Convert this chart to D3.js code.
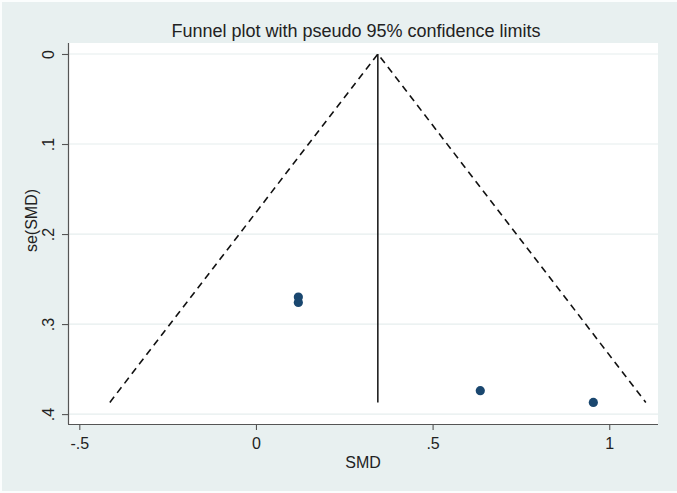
<!DOCTYPE html>
<html><head><meta charset="utf-8">
<script src="https://cdn.jsdelivr.net/npm/d3@7"></script>
<style>html,body{margin:0;padding:0;background:#fff;}svg{display:block;}</style>
</head><body>
<svg id="chart" width="677" height="493"></svg>
<script>
// Data
const smd = [0.12, 0.12, 0.635, 0.955];
const seSmd = [0.270, 0.276, 0.374, 0.387];
const pooled = 0.345;
const xTicks = [-0.5, 0, 0.5, 1];
const xTickLabels = ["-.5", "0", ".5", "1"];
const yTicks = [0, 0.1, 0.2, 0.3, 0.4];
const yTickLabels = ["0", ".1", ".2", ".3", ".4"];
const title = "Funnel plot with pseudo 95% confidence limits";

const W = 677, H = 493;
const svg = d3.select("#chart");
const font = "'Liberation Sans', Arial, Helvetica, sans-serif";

svg.append("rect").attr("x", 0).attr("y", 0).attr("width", W).attr("height", H).attr("fill", "#fbfdfd");
svg.append("rect").attr("x", 2).attr("y", 2).attr("width", W - 2).attr("height", H - 4).attr("fill", "#e8f0f0");

const pl = 68, pr = 658, pt = 43, pb = 424;
const x = d3.scaleLinear().domain([-0.532, 1.138]).range([pl, pr]);
const y = d3.scaleLinear().domain([-0.0122, 0.411]).range([pt, pb]);

svg.append("rect").attr("x", pl).attr("y", pt).attr("width", pr - pl).attr("height", pb - pt).attr("fill", "#ffffff");

// gridlines
svg.append("g").selectAll("line").data(yTicks).join("line")
  .attr("x1", pl).attr("x2", pr)
  .attr("y1", d => y(d)).attr("y2", d => y(d))
  .attr("stroke", "#e6eeee").attr("stroke-width", 1.2);

// axes
const yAxis = d3.axisLeft(y).tickValues(yTicks).tickFormat((d, i) => yTickLabels[i]).tickSize(6).tickPadding(4);
const gy = svg.append("g").attr("transform", `translate(${pl},0)`).call(yAxis);
const xAxis = d3.axisBottom(x).tickValues(xTicks).tickFormat((d, i) => xTickLabels[i]).tickSize(6).tickPadding(8);
const gx = svg.append("g").attr("transform", `translate(0,${pb})`).call(xAxis);
[gx, gy].forEach(g => {
  g.select(".domain").attr("stroke", "#555").attr("stroke-width", 1.2);
  g.selectAll(".tick line").attr("stroke", "#555").attr("stroke-width", 1.1);
  g.selectAll(".tick text").attr("font-family", font).attr("font-size", 16).attr("fill", "#222");
});
gx.select(".domain").attr("d", `M${pl},0.5H${pr}`);
gy.select(".domain").attr("d", `M0.5,${pt}V${pb}`);
gy.selectAll(".tick text")
  .attr("x", null).attr("dy", null)
  .attr("text-anchor", "middle")
  .attr("transform", "translate(-20,0) rotate(-90)")
  .attr("dy", "0.35em");

// axis titles
svg.append("text").attr("x", (pl + pr) / 2).attr("y", 468).attr("text-anchor", "middle")
  .attr("font-family", font).attr("font-size", 16).attr("fill", "#222").text("SMD");
svg.append("text").attr("transform", `translate(37,${y(0.185)}) rotate(-90)`).attr("text-anchor", "middle")
  .attr("font-family", font).attr("font-size", 16).attr("fill", "#222").text("se(SMD)");
svg.append("text").attr("x", (pl + pr) / 2 - 7).attr("y", 37).attr("text-anchor", "middle")
  .attr("font-family", font).attr("font-size", 18).attr("fill", "#222").text(title);

// funnel
const seMax = d3.max(seSmd);
const funnel = [[pooled - 1.96 * seMax, seMax], [pooled, 0], [pooled + 1.96 * seMax, seMax]];
svg.append("path")
  .attr("d", d3.line().x(d => x(d[0])).y(d => y(d[1]))(funnel))
  .attr("fill", "none").attr("stroke", "#111").attr("stroke-width", 1.6)
  .attr("stroke-dasharray", "7,5");
svg.append("line").attr("x1", x(pooled)).attr("x2", x(pooled))
  .attr("y1", y(0)).attr("y2", y(seMax))
  .attr("stroke", "#111").attr("stroke-width", 1.5);

// points
svg.append("g").selectAll("circle").data(smd).join("circle")
  .attr("cx", d => x(d)).attr("cy", (d, i) => y(seSmd[i]))
  .attr("r", 4.6).attr("fill", "#1a476f");
</script>
</body></html>
